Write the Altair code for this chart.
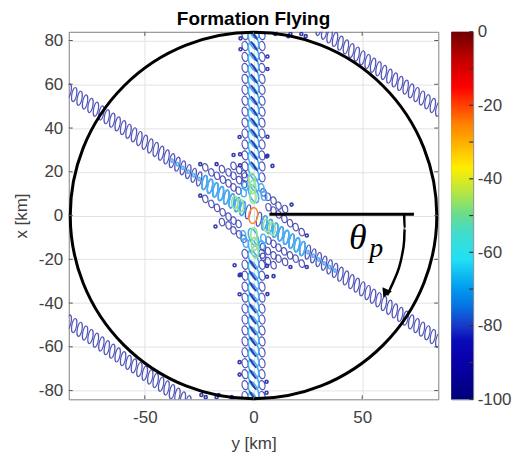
import altair as alt
import pandas as pd

# ---- values (km) ----
arm_y = [2.5,5,7.5,10,12.5,15,17.5,20,22.5,25,27.5,30,32.5,35,37.5,40,42.5,45,47.5,50,52.5,55,57.5,60,62.5,65,67.5,70,72.5,75,77.5,80,82.5,85]
arm_x = [-1.7,-3.3,-5,-6.7,-8.4,-10,-11.7,-13.4,-15.1,-16.7,-18.4,-20.1,-21.8,-23.5,-25.1,-26.8,-28.5,-30.2,-31.8,-33.5,-35.2,-36.9,-38.5,-40.2,-41.9,-43.6,-45.2,-46.9,-48.6,-50.3,-51.9,-53.6,-55.3,-57]
top_y = [30,32.5,35,37.5,40,42.5,45,47.5,50,52.5,55,57.5,60,62.5,65,67.5,70,72.5,75,77.5,80,82.5,85]
top_x = [85.5,83.8,82.1,80.5,78.8,77.1,75.4,73.8,72.1,70.4,68.7,67.1,65.4,63.7,62,60.4,58.7,57,55.3,53.7,52,50.3,48.6]
arm_light_y = [5,7.5,10,12.5,15,17.5,20,22.5]
arm_light_x = [-3.3,-5,-6.7,-8.4,-10,-11.7,-13.4,-15.1]
arm_dot_y = [25,27.5,30,32.5,35,37.5]
arm_dot_x = [-16.7,-18.4,-20.1,-21.8,-23.5,-25.1]
band_x = [10,15,20,25,30,35,40,45,50,55,60,65,70,75,80,85]
side_x = [17.5,22.5,27.5,32.5,37.5,42.5,47.5,52.5,57.5,62.5,67.5,72.5,77.5,82.5]
navy_x = [22.5,27.5,32.5,37.5,42.5,47.5,52.5,57.5,62.5,67.5,72.5,77.5,82.5]
green_y = [-0.8,-0.4,-0.2,-6,-8.6]
green_x = [16.5,13,8.5,4.5,6]
lobe_y = [-22.2,-19.4,-16.8,-14.1,-11.5,-9.2,-6.9,-14.5,-11.5,-9.2,-6.6,-4.4,-22.2,-19.4,-16.8,-14.2,-11.5,-9.2,-6.9,-14.5,-11.5,-9.2,-6.6,-4.6,-9.2,-6.6,-4.4]
lobe_x = [22,19.7,18.2,16.4,14.7,12.9,11.4,21.2,19.7,18.2,16.2,14.4,7.6,5.3,3.5,1.5,-0.5,-2.3,-3.8,-3,-4.5,-6.8,-8.6,-10.6,22.7,20.8,18.9]
patch_y = [-3.8,-4.6,-3.6,-4.8]
patch_x = [13.6,10.6,-12.5,-9]
dot_y = [-24.5,-24.5,-17,-17.5,-6.4,-9.2,6.4,8.7,-6,-6,6.4,6.4,-6.4,-6,6.2,6.2,3,10,16,22,-10,-17,-24]
dot_x = [23.5,9.1,23.5,-5,35.9,27.7,27.3,22.7,81,76,72.7,67,-36,-27,-28,-23,84,83,82,83,-84,-83,-82]
hline_y = [7.3, 73.8]
hline_x = [0.6, 0.6]
arc_y = [69.3,69.5,69.3,68.3,67,64.7,61.5]
arc_x = [0.5,-5.9,-11.4,-18.2,-23.6,-29.5,-36.4]
x_ticks = [-50,0,50]
y_ticks = [-80,-60,-40,-20,0,20,40,60,80]
cb_ticks = [-100,-90,-80,-70,-60,-50,-40,-30,-20,-10,0]
cb_stops = [-100,-90,-84,-80,-75,-70,-62,-55,-50,-42,-37,-25,-15,-8,0]
cb_colors = ["#00007a","#0800a8","#0a0ab8","#1838c8","#0870e0","#0098f0","#20e0f4","#40dcd0","#66dc90","#c8e830","#ffee00","#ff8000","#ff0000","#c80000","#6e0000"]

LBL = "''+datum.value"
X = alt.X("y:Q", scale=alt.Scale(domain=[-85,85], nice=False), title="y [km]",
          axis=alt.Axis(values=x_ticks, grid=True, gridColor="#e2e2e2", ticks=False, domain=False,
                        labelExpr=LBL,
                        labelFontSize=17, titleFontSize=17, labelColor="#404040", titleColor="#404040",
                        labelFont="Liberation Sans", titleFont="Liberation Sans", titleFontWeight="normal",
                        labelPadding=10, titlePadding=10))
Y = alt.Y("x:Q", scale=alt.Scale(domain=[-84,84], nice=False), title="x [km]",
          axis=alt.Axis(values=y_ticks, grid=True, gridColor="#e2e2e2", ticks=False, domain=False,
                        labelExpr=LBL,
                        labelFontSize=17, titleFontSize=17, labelColor="#404040", titleColor="#404040",
                        labelFont="Liberation Sans", titleFont="Liberation Sans", titleFontWeight="normal",
                        labelPadding=6, titlePadding=8))

def path(a):
    k = 0.5523
    ka = round(k*a,4)
    return (f"M0,-1C{ka},-1 {a},-{k} {a},0C{a},{k} {ka},1 0,1"
            f"C-{ka},1 -{a},{k} -{a},0C-{a},-{k} -{ka},-1 0,-1Z")

def ovals(ys, xs, a, hh, color, angle=0, sw=1.2, op=0.95):
    d = pd.DataFrame({"y": ys, "x": xs})
    return alt.Chart(d).mark_point(shape=path(a), size=(2*hh)**2, filled=False, stroke=color,
                                   strokeWidth=sw, angle=angle, opacity=op, clip=True).encode(x=X, y=Y)

def both(ys, xs):
    return list(ys) + [-v for v in ys], list(xs) + [-v for v in xs]

BLUE, LIGHT, GREEN, NAVY = "#4a4db6", "#45aef5", "#98e492", "#2a32a8"
zeros = [0]*len(band_x)
ARM_A = 10
layers = []
layers.append(ovals(*both(arm_y, arm_x), 0.33, 7.2, BLUE, ARM_A))
layers.append(ovals(*both(top_y, top_x), 0.33, 7.2, BLUE, ARM_A))
layers.append(ovals(*both(arm_light_y, arm_light_x), 0.34, 7.2, LIGHT, ARM_A, 1.6, 1))
layers.append(ovals(*both(arm_dot_y, arm_dot_x), 0.6, 1.8, LIGHT, 0, 1.5))
layers.append(ovals(*both(lobe_y, lobe_x), 0.7, 3.8, BLUE, 350))
layers.append(ovals(*both(patch_y, patch_x), 0.6, 4.5, LIGHT, 350, 1.5))
layers.append(ovals(*both([-3.9]*len(side_x), side_x), 0.65, 4.6, BLUE, 350))
layers.append(ovals(*both([3.9]*len(side_x), side_x), 0.65, 4.6, BLUE, 350))
layers.append(ovals(*both(zeros, band_x), 0.44, 9.5, LIGHT, 338, 1.6, 1))
layers.append(ovals(*both([0.3]*len(navy_x), navy_x), 0.08, 5.5, NAVY, 325, 1.1))
layers.append(ovals(*both(green_y, green_x), 0.48, 6.5, GREEN, 0, 1.6, 1))
layers.append(ovals([-0.1], [0], 0.55, 8, "#f58a3a", 8, 1.6, 1))
layers.append(ovals(*both(dot_y, dot_x), 1, 1.5, NAVY, 0, 1.6))

# outer circle (centre at the origin)
circle = alt.Chart(pd.DataFrame({"y":[0],"x":[0]})).mark_point(
    shape="circle", size=368**2, filled=False, stroke="black", strokeWidth=3, opacity=1).encode(x=X, y=Y)
layers.append(circle)

hl = alt.Chart(pd.DataFrame({"y":hline_y,"x":hline_x})).mark_line(color="black", strokeWidth=3).encode(x=X, y=Y)
arc = alt.Chart(pd.DataFrame({"y":arc_y,"x":arc_x,"o":range(len(arc_y))})).mark_line(
    color="black", strokeWidth=2.5, interpolate="monotone").encode(x=X, y=Y, order="o:Q")
head = alt.Chart(pd.DataFrame({"y":[60.6],"x":[-35.6]})).mark_point(
    shape="triangle-up", size=110, filled=True, color="black", opacity=1, angle=205).encode(x=X, y=Y)
layers += [hl, arc, head]

th = alt.Chart(pd.DataFrame({"y":[48],"x":[-10.3],"t":["θ"]})).mark_text(
    font="Liberation Serif", fontStyle="italic", fontSize=36, color="black").encode(x=X, y=Y, text="t:N")
pp = alt.Chart(pd.DataFrame({"y":[56.5],"x":[-15.5],"t":["p"]})).mark_text(
    font="Liberation Serif", fontStyle="italic", fontSize=28, color="black").encode(x=X, y=Y, text="t:N")
layers += [th, pp]

# inward ticks
tk_y = pd.DataFrame({"x": y_ticks})
tk_x = pd.DataFrame({"y": x_ticks})
TICK = "#555555"
W, H = 371, 369
layers.append(alt.Chart(tk_y).mark_rule(color=TICK).encode(y=Y, x=alt.value(0), x2=alt.value(4)))
layers.append(alt.Chart(tk_y).mark_rule(color=TICK).encode(y=Y, x=alt.value(W-4), x2=alt.value(W)))
layers.append(alt.Chart(tk_x).mark_rule(color=TICK).encode(x=X, y=alt.value(H-4), y2=alt.value(H)))
layers.append(alt.Chart(tk_x).mark_rule(color=TICK).encode(x=X, y=alt.value(0), y2=alt.value(4)))

title = alt.Chart(pd.DataFrame({"t":["Formation Flying"]})).mark_text(
    font="Liberation Sans", fontWeight="bold", fontSize=19, color="black").encode(
    text="t:N", x=alt.value(185.5), y=alt.value(-13))
layers.append(title)

main = alt.layer(*layers).properties(width=W, height=H)

CY = alt.Scale(domain=[-100,0], nice=False)
grad = alt.Gradient(gradient="linear", x1=0, x2=0, y1=1, y2=0,
                    stops=[alt.GradientStop(offset=(s+100)/100, color=c) for s, c in zip(cb_stops, cb_colors)])
bar = alt.Chart(pd.DataFrame({"lo":[-100],"hi":[0]})).mark_rect(color=grad).encode(
    y=alt.Y("lo:Q", scale=CY, title=None,
            axis=alt.Axis(orient="right", values=cb_ticks, ticks=False, domain=False, grid=False, labelExpr=LBL,
                          labelFontSize=17, labelColor="#404040", labelFont="Liberation Sans", labelPadding=4)),
    y2="hi:Q", x=alt.value(0), x2=alt.value(22))
cbt = alt.Chart(pd.DataFrame({"lo": cb_ticks})).mark_rule(color="#333333", strokeWidth=1.2).encode(
    y=alt.Y("lo:Q", scale=CY), x=alt.value(18), x2=alt.value(22))
cbar = alt.layer(bar, cbt).properties(width=22, height=H)

chart = alt.hconcat(main, cbar, spacing=13, bounds="flush").configure_view(stroke="#808080").properties(
    padding={"left":3,"top":0,"right":0,"bottom":0}, background="white")
chart.save("out.html", embed_options={"renderer": "svg", "actions": False})
